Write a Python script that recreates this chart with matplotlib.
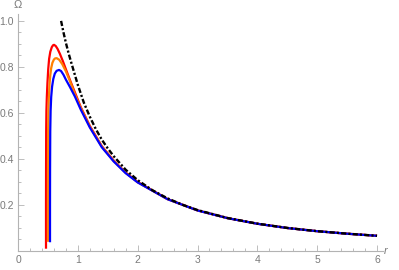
import matplotlib
matplotlib.use("Agg")
import matplotlib.pyplot as plt
from matplotlib.ticker import MultipleLocator, FixedLocator

# ---- data ----
r_red = [0.468, 0.468, 0.469, 0.471, 0.475, 0.482, 0.492, 0.505, 0.52, 0.54, 0.565, 0.585, 0.602,
         0.63, 0.66, 0.70, 0.75, 0.80, 0.87, 0.95, 1.05, 1.2, 1.4, 1.6, 1.8, 2.0, 2.5, 3.0, 3.5,
         4.0, 4.5, 5.0, 5.5, 6.0]
om_red = [0.010, 0.20, 0.35, 0.52, 0.61, 0.67, 0.73, 0.79, 0.835, 0.866, 0.886, 0.894, 0.896,
          0.891, 0.879, 0.857, 0.825, 0.790, 0.742, 0.690, 0.625, 0.544, 0.456, 0.393, 0.341,
          0.300, 0.2257, 0.1765, 0.1430, 0.1185, 0.1000, 0.0861, 0.0752, 0.0661]

r_orange = [0.500, 0.500, 0.501, 0.503, 0.508, 0.516, 0.527, 0.54, 0.555, 0.575, 0.60, 0.62, 0.647,
            0.69, 0.74, 0.80, 0.87, 0.95, 1.05, 1.2, 1.4, 1.6, 1.8, 2.0, 2.5, 3.0, 3.5,
            4.0, 4.5, 5.0, 5.5, 6.0]
om_orange = [0.040, 0.20, 0.35, 0.52, 0.61, 0.67, 0.725, 0.765, 0.795, 0.818, 0.832, 0.837, 0.838,
             0.831, 0.812, 0.781, 0.737, 0.682, 0.621, 0.541, 0.454, 0.391, 0.340, 0.299, 0.2252,
             0.1763, 0.1429, 0.1184, 0.0999, 0.0860, 0.0752, 0.0661]

r_blue = [0.535, 0.535, 0.536, 0.539, 0.545, 0.555, 0.57, 0.59, 0.615, 0.645, 0.686,
          0.72, 0.76, 0.80, 0.87, 0.95, 1.05, 1.2, 1.4, 1.6, 1.8, 2.0, 2.5, 3.0, 3.5,
          4.0, 4.5, 5.0, 5.5, 6.0]
om_blue = [0.038, 0.20, 0.35, 0.52, 0.61, 0.67, 0.715, 0.748, 0.771, 0.783, 0.787,
           0.782, 0.766, 0.745, 0.712, 0.672, 0.614, 0.537, 0.451, 0.389, 0.338, 0.298, 0.225,
           0.1762, 0.1428, 0.1183, 0.0998, 0.0860, 0.0751, 0.0660]

r_black = [0.72, 0.76, 0.80, 0.85, 0.90, 0.95, 1.0, 1.1, 1.2, 1.3, 1.4, 1.5, 1.6, 1.8, 2.0,
           2.25, 2.5, 2.75, 3.0, 3.5, 4.0, 4.5, 5.0, 5.5, 6.0]
om_black = [1.000, 0.950, 0.905, 0.855, 0.810, 0.766, 0.722, 0.645, 0.584, 0.530, 0.484, 0.446,
            0.412, 0.353, 0.308, 0.2635, 0.2287, 0.2008, 0.178, 0.1435, 0.1188, 0.1003, 0.0862,
            0.0753, 0.0662]

x_ticks = [0, 1, 2, 3, 4, 5, 6]
y_ticks = [0.2, 0.4, 0.6, 0.8, 1.0]
y_tick_labels = ["0.2", "0.4", "0.6", "0.8", "1.0"]

plt.rcParams['font.family'] = ['Liberation Sans', 'DejaVu Sans']

W, H = 399, 270
fig = plt.figure(figsize=(W / 100, H / 100), dpi=100)
left, right, bottom, top = 18, 383, 251, 14
ax = fig.add_axes([left / W, (H - bottom) / H, (right - left) / W, (bottom - top) / H])
ax.set_xlim(0, 6.1)
ax.set_ylim(0, 1.03)

lw = 1.6
ax.plot(r_red, om_red, color='#ff0000', lw=lw, solid_capstyle='butt', zorder=3)
ax.plot(r_orange, om_orange, color='#ff8000', lw=lw, solid_capstyle='butt', zorder=4)
ax.plot(r_blue, om_blue, color='#0000ff', lw=lw, solid_capstyle='butt', zorder=5)
ax.plot(r_black, om_black, color='black', lw=1.7, linestyle=(0, (2.2, 0.9, 0.9, 0.9)),
        dash_capstyle='butt', zorder=6)

axis_col = '#b3b3b3'
text_col = '#7a7a7a'
for s in ['top', 'right']:
    ax.spines[s].set_visible(False)
for s in ['left', 'bottom']:
    ax.spines[s].set_color(axis_col)
    ax.spines[s].set_linewidth(0.8)

ax.xaxis.set_major_locator(FixedLocator(x_ticks))
ax.xaxis.set_minor_locator(MultipleLocator(0.2))
ax.yaxis.set_major_locator(FixedLocator(y_ticks))
ax.yaxis.set_minor_locator(MultipleLocator(0.05))
ax.set_yticklabels(y_tick_labels)
ax.tick_params(which='both', direction='in', color=axis_col, width=0.6)
ax.tick_params(which='major', length=4, labelsize=7.5, labelcolor=text_col, pad=3)
ax.tick_params(which='minor', length=2.3)

ax.text(1.003, 0.0, 'r', transform=ax.transAxes, fontsize=8, color=text_col,
        style='italic', ha='left', va='center')
ax.text(0.0, 1.015, 'Ω', transform=ax.transAxes, fontsize=8, color=text_col,
        ha='center', va='bottom')

fig.savefig('out.png', dpi=100)
